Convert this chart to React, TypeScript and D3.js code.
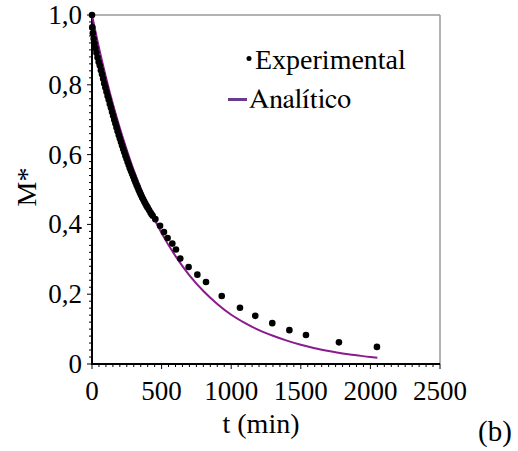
import React from "react";
import * as d3 from "d3";

const expT = [0, 2, 6, 12, 18, 25, 32, 40, 48, 56, 64, 72, 80, 88, 96, 104, 112, 120, 128, 136, 144, 152, 160, 168, 176, 184, 192, 200, 208, 216, 224, 232, 240, 248, 256, 264, 272, 280, 288, 296, 304, 312, 320, 328, 336, 344, 352, 360, 368, 376, 384, 392, 400, 410, 420, 428, 436, 455, 489, 517, 543, 577, 603, 634, 694, 757, 819, 932, 1063, 1173, 1295, 1418, 1537, 1774, 2047];
const expM = [1.0, 0.965, 0.948, 0.932, 0.918, 0.905, 0.892, 0.878, 0.865, 0.855, 0.842, 0.83, 0.817, 0.804, 0.792, 0.78, 0.768, 0.757, 0.745, 0.734, 0.722, 0.711, 0.7, 0.689, 0.678, 0.667, 0.656, 0.646, 0.636, 0.626, 0.616, 0.607, 0.597, 0.588, 0.579, 0.57, 0.561, 0.553, 0.545, 0.537, 0.529, 0.521, 0.513, 0.506, 0.498, 0.491, 0.484, 0.477, 0.471, 0.465, 0.459, 0.453, 0.448, 0.441, 0.434, 0.429, 0.425, 0.415, 0.396, 0.378, 0.361, 0.345, 0.328, 0.302, 0.278, 0.256, 0.235, 0.195, 0.161, 0.138, 0.117, 0.097, 0.083, 0.062, 0.049];

const anaT = [0, 50, 100, 150, 200, 250, 300, 350, 400, 450, 500, 600, 700, 800, 900, 1000, 1100, 1200, 1300, 1400, 1500, 1600, 1700, 1800, 1900, 2000, 2050];
const anaM = [1.0, 0.906, 0.822, 0.745, 0.676, 0.613, 0.555, 0.504, 0.457, 0.414, 0.375, 0.309, 0.254, 0.209, 0.172, 0.141, 0.117, 0.097, 0.081, 0.067, 0.055, 0.045, 0.037, 0.03, 0.025, 0.02, 0.018];

const xTicks = [0, 500, 1000, 1500, 2000, 2500];
const yTicks = [0, 0.2, 0.4, 0.6, 0.8, 1.0];
const yTickLabels = ["0", "0,2", "0,4", "0,6", "0,8", "1,0"];

export default function App() {
  const W = 518, H = 451;
  const x = d3.scaleLinear().domain([0, 2500]).range([92, 440]);
  const y = d3.scaleLinear().domain([0, 1]).range([364, 15]);
  const line = d3.line<number>().x((_, i) => x(anaT[i])).y((d) => y(d)).curve(d3.curveMonotoneX);
  const xMinor = d3.range(0, 2501, 50);
  const yMinor = d3.range(0, 1.0001, 0.02);
  const purple = "#8a1a8e";
  return (
    <div style={{ position: "absolute", left: 0, top: 0 }}>
      <svg width={W} height={H}>
        <text x={478} y={441} fontFamily="Times New Roman" fontSize={29}>(b)</text>
        <text x={261} y={433} textAnchor="middle" fontFamily="Times New Roman" fontSize={28}>t (min)</text>
        <text transform="translate(36,187) rotate(-90)" textAnchor="middle" fontFamily="Times New Roman" fontSize={28}>M*</text>
        <text x={255} y={69} fontFamily="Tinos" fontSize={28}>Experimental</text>
        <text x={249} y={108} fontFamily="FreeSerif" fontSize={28}>Analítico</text>
        {xTicks.map((t) => (
          <text key={"xt" + t} x={x(t)} y={400} textAnchor="middle" fontFamily="Times New Roman" fontSize={27}>{String(t)}</text>
        ))}
        {yTicks.map((m, i) => (
          <text key={"yt" + i} x={82} y={y(m) + 9} textAnchor="end" fontFamily="Liberation Serif" fontSize={27}>{yTickLabels[i]}</text>
        ))}
        <line x1={x(0)} x2={x(2500)} y1={y(1)} y2={y(1)} stroke="#999" strokeWidth={1.5} />
        <line x1={x(2500)} x2={x(2500)} y1={y(1)} y2={y(0)} stroke="#999" strokeWidth={1.5} />
        {xMinor.map((t) => (
          <line key={"xm" + t} x1={x(t)} x2={x(t)} y1={y(0)} y2={y(0) + (t % 500 === 0 ? 5 : 3)} stroke="#000" strokeWidth={1} />
        ))}
        {yMinor.map((m, i) => (
          <line key={"ym" + i} x1={x(0)} x2={x(0) - (i % 10 === 0 ? 5 : 3)} y1={y(m)} y2={y(m)} stroke="#000" strokeWidth={1} />
        ))}
        <line x1={x(0)} x2={x(2500)} y1={y(0)} y2={y(0)} stroke="#000" strokeWidth={2} />
        <line x1={x(0)} x2={x(0)} y1={y(0) + 1} y2={y(1)} stroke="#000" strokeWidth={2} />
        <path d={line(anaM) || ""} fill="none" stroke={purple} strokeWidth={2} />
        {expT.map((t, i) => (
          <circle key={"p" + i} cx={x(t)} cy={y(expM[i])} r={3.3} fill="#000" />
        ))}
        <circle cx={249} cy={58.5} r={2.5} fill="#000" />
        <line x1={228} x2={247} y1={99.5} y2={99.5} stroke="#6a3a8e" strokeWidth={3} />
      </svg>
    </div>
  );
}
